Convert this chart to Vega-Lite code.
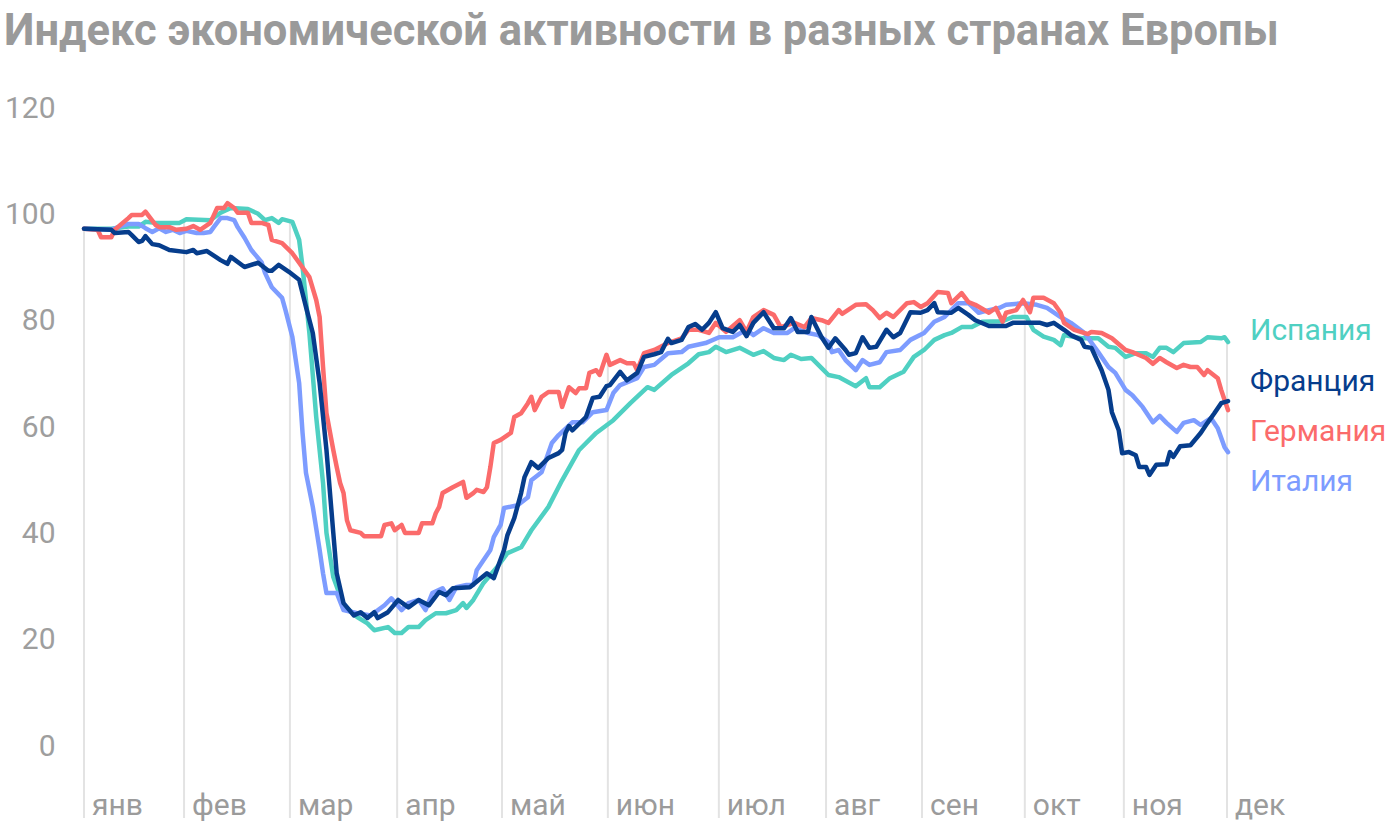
{
  "$schema": "https://vega.github.io/schema/vega-lite/v6.json",
  "autosize": "none",
  "width": 1144,
  "height": 710,
  "padding": {"left": 84, "top": 108, "right": 172, "bottom": 10},
  "background": "white",
  "title": {"text": "Индекс экономической активности в разных странах Европы", "anchor": "start", "frame": "group", "dx": -80, "offset": 5, "baseline": "alphabetic", "fontSize": 43.5, "font": "Roboto", "fontWeight": "bold", "color": "#9a9a9a"},
  "config": {
    "view": {"stroke": null},
    "axisY": {"grid": false, "domain": false, "ticks": false, "labelFontSize": 30, "labelFont": "Roboto", "labelColor": "#9e9e9e", "labelPadding": 29}
  },
  "datasets": {
    "series": [
      {"c":"Испания","d":0,"v":97.3},{"c":"Испания","d":8,"v":97.3},{"c":"Испания","d":13,"v":97.7},{"c":"Испания","d":16,"v":97.7},{"c":"Испания","d":18,"v":98.6},{"c":"Испания","d":21,"v":98.4},{"c":"Испания","d":28,"v":98.4},{"c":"Испания","d":30,"v":99.1},{"c":"Испания","d":37,"v":98.9},{"c":"Испания","d":40,"v":100.3},{"c":"Испания","d":43,"v":101.2},{"c":"Испания","d":48,"v":101.0},{"c":"Испания","d":51,"v":100.1},{"c":"Испания","d":53,"v":98.9},{"c":"Испания","d":55,"v":99.3},{"c":"Испания","d":57,"v":98.4},{"c":"Испания","d":58,"v":99.1},{"c":"Испания","d":61,"v":98.6},{"c":"Испания","d":63,"v":95.2},{"c":"Испания","d":64,"v":90.1},{"c":"Испания","d":66,"v":77.7},{"c":"Испания","d":68,"v":61.9},{"c":"Испания","d":70,"v":49.5},{"c":"Испания","d":71,"v":40.1},{"c":"Испания","d":73,"v":31.8},{"c":"Испания","d":76,"v":26.5},{"c":"Испания","d":80,"v":24.3},{"c":"Испания","d":83,"v":23.1},{"c":"Испания","d":85,"v":21.8},{"c":"Испания","d":89,"v":22.4},{"c":"Испания","d":91,"v":21.3},{"c":"Испания","d":93,"v":21.3},{"c":"Испания","d":95,"v":22.4},{"c":"Испания","d":98,"v":22.4},{"c":"Испания","d":100,"v":23.7},{"c":"Испания","d":103,"v":25.0},{"c":"Испания","d":106,"v":25.0},{"c":"Испания","d":109,"v":25.6},{"c":"Испания","d":111,"v":26.9},{"c":"Испания","d":112,"v":26.0},{"c":"Испания","d":114,"v":27.5},{"c":"Испания","d":117,"v":30.7},{"c":"Испания","d":121,"v":33.7},{"c":"Испания","d":124,"v":36.3},{"c":"Испания","d":128,"v":37.4},{"c":"Испания","d":131,"v":40.6},{"c":"Испания","d":136,"v":45.0},{"c":"Испания","d":140,"v":50.0},{"c":"Испания","d":145,"v":55.7},{"c":"Испания","d":150,"v":58.9},{"c":"Испания","d":155,"v":61.3},{"c":"Испания","d":160,"v":64.5},{"c":"Испания","d":165,"v":67.5},{"c":"Испания","d":167,"v":67.0},{"c":"Испания","d":172,"v":69.8},{"c":"Испания","d":177,"v":72.0},{"c":"Испания","d":180,"v":73.7},{"c":"Испания","d":183,"v":74.1},{"c":"Испания","d":185,"v":75.1},{"c":"Испания","d":188,"v":74.1},{"c":"Испания","d":192,"v":74.9},{"c":"Испания","d":196,"v":73.6},{"c":"Испания","d":199,"v":74.3},{"c":"Испания","d":202,"v":73.0},{"c":"Испания","d":205,"v":72.6},{"c":"Испания","d":207,"v":73.6},{"c":"Испания","d":210,"v":72.8},{"c":"Испания","d":213,"v":73.0},{"c":"Испания","d":216,"v":71.1},{"c":"Испания","d":218,"v":69.8},{"c":"Испания","d":221,"v":69.4},{"c":"Испания","d":226,"v":67.7},{"c":"Испания","d":229,"v":69.2},{"c":"Испания","d":230,"v":67.5},{"c":"Испания","d":233,"v":67.5},{"c":"Испания","d":236,"v":69.2},{"c":"Испания","d":240,"v":70.4},{"c":"Испания","d":243,"v":73.2},{"c":"Испания","d":246,"v":74.5},{"c":"Испания","d":249,"v":76.4},{"c":"Испания","d":252,"v":77.3},{"c":"Испания","d":254,"v":77.7},{"c":"Испания","d":257,"v":78.8},{"c":"Испания","d":260,"v":78.8},{"c":"Испания","d":263,"v":79.8},{"c":"Испания","d":269,"v":79.9},{"c":"Испания","d":272,"v":80.7},{"c":"Испания","d":276,"v":80.7},{"c":"Испания","d":278,"v":78.3},{"c":"Испания","d":281,"v":77.0},{"c":"Испания","d":284,"v":76.4},{"c":"Испания","d":286,"v":75.4},{"c":"Испания","d":287,"v":77.3},{"c":"Испания","d":292,"v":76.7},{"c":"Испания","d":297,"v":76.7},{"c":"Испания","d":300,"v":75.1},{"c":"Испания","d":302,"v":74.9},{"c":"Испания","d":305,"v":73.2},{"c":"Испания","d":308,"v":73.9},{"c":"Испания","d":311,"v":73.9},{"c":"Испания","d":313,"v":73.2},{"c":"Испания","d":315,"v":74.9},{"c":"Испания","d":317,"v":74.9},{"c":"Испания","d":319,"v":74.1},{"c":"Испания","d":322,"v":75.8},{"c":"Испания","d":327,"v":76.0},{"c":"Испания","d":329,"v":76.9},{"c":"Испания","d":333,"v":76.7},{"c":"Испания","d":334,"v":76.9},{"c":"Испания","d":335,"v":76.0},

      {"c":"Италия","d":0,"v":97.3},{"c":"Италия","d":8,"v":97.1},{"c":"Италия","d":10,"v":97.6},{"c":"Италия","d":13,"v":98.2},{"c":"Италия","d":16,"v":98.2},{"c":"Италия","d":18,"v":97.4},{"c":"Италия","d":20,"v":96.7},{"c":"Италия","d":22,"v":97.4},{"c":"Италия","d":24,"v":96.7},{"c":"Италия","d":26,"v":97.1},{"c":"Италия","d":28,"v":96.5},{"c":"Италия","d":30,"v":96.9},{"c":"Италия","d":33,"v":96.5},{"c":"Италия","d":35,"v":96.5},{"c":"Италия","d":37,"v":96.7},{"c":"Италия","d":38,"v":97.6},{"c":"Италия","d":40,"v":99.3},{"c":"Италия","d":42,"v":99.3},{"c":"Италия","d":44,"v":98.9},{"c":"Италия","d":45,"v":97.6},{"c":"Италия","d":47,"v":95.6},{"c":"Италия","d":49,"v":93.3},{"c":"Италия","d":52,"v":91.0},{"c":"Италия","d":53,"v":89.0},{"c":"Италия","d":55,"v":86.3},{"c":"Италия","d":58,"v":84.3},{"c":"Италия","d":59,"v":82.0},{"c":"Италия","d":61,"v":77.0},{"c":"Италия","d":63,"v":68.3},{"c":"Италия","d":64,"v":58.9},{"c":"Италия","d":65,"v":51.4},{"c":"Италия","d":67,"v":45.0},{"c":"Италия","d":69,"v":36.9},{"c":"Италия","d":70,"v":32.5},{"c":"Италия","d":71,"v":28.8},{"c":"Италия","d":74,"v":28.8},{"c":"Италия","d":76,"v":25.6},{"c":"Италия","d":80,"v":25.0},{"c":"Италия","d":84,"v":24.6},{"c":"Италия","d":88,"v":26.5},{"c":"Италия","d":90,"v":27.8},{"c":"Италия","d":93,"v":25.6},{"c":"Италия","d":95,"v":26.9},{"c":"Италия","d":98,"v":27.5},{"c":"Италия","d":100,"v":25.6},{"c":"Италия","d":102,"v":28.8},{"c":"Италия","d":105,"v":29.7},{"c":"Италия","d":107,"v":27.5},{"c":"Италия","d":109,"v":29.9},{"c":"Италия","d":112,"v":30.3},{"c":"Италия","d":114,"v":30.3},{"c":"Италия","d":115,"v":33.1},{"c":"Италия","d":119,"v":36.9},{"c":"Италия","d":120,"v":39.3},{"c":"Италия","d":122,"v":41.6},{"c":"Италия","d":123,"v":44.8},{"c":"Италия","d":127,"v":45.3},{"c":"Италия","d":130,"v":46.8},{"c":"Италия","d":131,"v":50.0},{"c":"Италия","d":134,"v":51.5},{"c":"Италия","d":137,"v":57.0},{"c":"Италия","d":139,"v":58.5},{"c":"Италия","d":143,"v":60.9},{"c":"Италия","d":146,"v":60.9},{"c":"Италия","d":149,"v":62.8},{"c":"Италия","d":153,"v":63.2},{"c":"Италия","d":155,"v":66.4},{"c":"Италия","d":157,"v":67.9},{"c":"Италия","d":162,"v":69.2},{"c":"Италия","d":164,"v":71.3},{"c":"Италия","d":167,"v":71.7},{"c":"Италия","d":171,"v":73.9},{"c":"Италия","d":175,"v":74.1},{"c":"Италия","d":177,"v":75.1},{"c":"Италия","d":182,"v":75.8},{"c":"Италия","d":186,"v":76.9},{"c":"Италия","d":190,"v":76.9},{"c":"Италия","d":194,"v":78.3},{"c":"Италия","d":196,"v":77.3},{"c":"Италия","d":199,"v":78.6},{"c":"Италия","d":202,"v":77.7},{"c":"Италия","d":206,"v":77.7},{"c":"Италия","d":208,"v":78.6},{"c":"Италия","d":212,"v":77.7},{"c":"Италия","d":215,"v":77.3},{"c":"Италия","d":218,"v":76.0},{"c":"Италия","d":219,"v":74.1},{"c":"Италия","d":221,"v":74.5},{"c":"Италия","d":223,"v":72.6},{"c":"Италия","d":226,"v":70.7},{"c":"Италия","d":228,"v":72.6},{"c":"Италия","d":230,"v":71.7},{"c":"Италия","d":233,"v":72.2},{"c":"Италия","d":235,"v":74.1},{"c":"Италия","d":239,"v":74.5},{"c":"Италия","d":242,"v":76.4},{"c":"Италия","d":246,"v":77.7},{"c":"Италия","d":249,"v":79.8},{"c":"Италия","d":252,"v":80.7},{"c":"Италия","d":256,"v":83.3},{"c":"Италия","d":259,"v":83.3},{"c":"Италия","d":262,"v":81.5},{"c":"Италия","d":265,"v":82.0},{"c":"Италия","d":268,"v":82.4},{"c":"Италия","d":270,"v":83.0},{"c":"Италия","d":275,"v":83.3},{"c":"Италия","d":279,"v":83.0},{"c":"Италия","d":282,"v":82.4},{"c":"Италия","d":286,"v":80.7},{"c":"Италия","d":289,"v":79.6},{"c":"Италия","d":293,"v":77.7},{"c":"Италия","d":297,"v":74.1},{"c":"Италия","d":300,"v":71.3},{"c":"Италия","d":302,"v":70.2},{"c":"Италия","d":305,"v":67.0},{"c":"Италия","d":307,"v":66.0},{"c":"Италия","d":310,"v":63.8},{"c":"Италия","d":313,"v":60.9},{"c":"Италия","d":315,"v":62.1},{"c":"Италия","d":317,"v":60.8},{"c":"Италия","d":320,"v":59.1},{"c":"Италия","d":322,"v":60.8},{"c":"Италия","d":325,"v":61.3},{"c":"Италия","d":327,"v":60.4},{"c":"Италия","d":330,"v":61.7},{"c":"Италия","d":332,"v":59.8},{"c":"Италия","d":334,"v":56.2},{"c":"Италия","d":335,"v":55.3},

      {"c":"Германия","d":0,"v":97.3},{"c":"Германия","d":4,"v":97.1},{"c":"Германия","d":5,"v":95.7},{"c":"Германия","d":8,"v":95.7},{"c":"Германия","d":9,"v":97.1},{"c":"Германия","d":13,"v":99.3},{"c":"Германия","d":14,"v":99.9},{"c":"Германия","d":17,"v":99.9},{"c":"Германия","d":18,"v":100.5},{"c":"Германия","d":21,"v":98.0},{"c":"Германия","d":22,"v":97.6},{"c":"Германия","d":25,"v":97.6},{"c":"Германия","d":27,"v":97.1},{"c":"Германия","d":30,"v":97.3},{"c":"Германия","d":32,"v":97.8},{"c":"Германия","d":34,"v":97.1},{"c":"Германия","d":37,"v":98.4},{"c":"Германия","d":39,"v":101.2},{"c":"Германия","d":41,"v":101.2},{"c":"Германия","d":42,"v":102.1},{"c":"Германия","d":44,"v":101.2},{"c":"Германия","d":45,"v":100.3},{"c":"Германия","d":48,"v":100.3},{"c":"Германия","d":49,"v":98.4},{"c":"Германия","d":52,"v":98.4},{"c":"Германия","d":54,"v":98.0},{"c":"Германия","d":55,"v":95.2},{"c":"Германия","d":58,"v":94.6},{"c":"Германия","d":61,"v":92.7},{"c":"Германия","d":63,"v":90.9},{"c":"Германия","d":66,"v":88.2},{"c":"Германия","d":68,"v":83.9},{"c":"Германия","d":69,"v":80.7},{"c":"Германия","d":70,"v":71.3},{"c":"Германия","d":71,"v":62.6},{"c":"Германия","d":73,"v":55.7},{"c":"Германия","d":74,"v":52.5},{"c":"Германия","d":75,"v":49.5},{"c":"Германия","d":76,"v":47.6},{"c":"Германия","d":77,"v":42.5},{"c":"Германия","d":78,"v":40.6},{"c":"Германия","d":81,"v":40.1},{"c":"Германия","d":82,"v":39.5},{"c":"Германия","d":87,"v":39.5},{"c":"Германия","d":88,"v":41.6},{"c":"Германия","d":90,"v":41.9},{"c":"Германия","d":91,"v":40.6},{"c":"Германия","d":93,"v":41.6},{"c":"Германия","d":94,"v":40.1},{"c":"Германия","d":98,"v":40.1},{"c":"Германия","d":99,"v":41.9},{"c":"Германия","d":102,"v":41.9},{"c":"Германия","d":103,"v":43.8},{"c":"Германия","d":104,"v":45.0},{"c":"Германия","d":105,"v":47.6},{"c":"Германия","d":108,"v":48.7},{"c":"Германия","d":111,"v":49.7},{"c":"Германия","d":112,"v":46.7},{"c":"Германия","d":114,"v":47.6},{"c":"Германия","d":115,"v":48.2},{"c":"Германия","d":117,"v":47.8},{"c":"Германия","d":118,"v":48.7},{"c":"Германия","d":119,"v":52.5},{"c":"Германия","d":120,"v":57.0},{"c":"Германия","d":122,"v":57.6},{"c":"Германия","d":125,"v":58.9},{"c":"Германия","d":126,"v":61.9},{"c":"Германия","d":128,"v":62.6},{"c":"Германия","d":130,"v":64.5},{"c":"Германия","d":131,"v":65.7},{"c":"Германия","d":132,"v":63.2},{"c":"Германия","d":134,"v":65.7},{"c":"Германия","d":136,"v":66.6},{"c":"Германия","d":139,"v":66.6},{"c":"Германия","d":140,"v":63.8},{"c":"Германия","d":142,"v":67.5},{"c":"Германия","d":144,"v":66.4},{"c":"Германия","d":145,"v":67.3},{"c":"Германия","d":147,"v":67.3},{"c":"Германия","d":148,"v":70.2},{"c":"Германия","d":150,"v":70.7},{"c":"Германия","d":151,"v":69.8},{"c":"Германия","d":153,"v":73.6},{"c":"Германия","d":154,"v":71.7},{"c":"Германия","d":157,"v":72.6},{"c":"Германия","d":159,"v":72.0},{"c":"Германия","d":161,"v":72.0},{"c":"Германия","d":162,"v":70.7},{"c":"Германия","d":164,"v":73.9},{"c":"Германия","d":167,"v":74.5},{"c":"Германия","d":171,"v":75.8},{"c":"Германия","d":175,"v":76.7},{"c":"Германия","d":177,"v":78.3},{"c":"Германия","d":180,"v":78.3},{"c":"Германия","d":183,"v":77.7},{"c":"Германия","d":185,"v":79.6},{"c":"Германия","d":188,"v":77.9},{"c":"Германия","d":192,"v":80.1},{"c":"Германия","d":194,"v":77.9},{"c":"Германия","d":196,"v":80.7},{"c":"Германия","d":199,"v":82.0},{"c":"Германия","d":202,"v":81.1},{"c":"Германия","d":204,"v":78.8},{"c":"Германия","d":208,"v":79.6},{"c":"Германия","d":211,"v":78.8},{"c":"Германия","d":213,"v":80.5},{"c":"Германия","d":216,"v":80.1},{"c":"Германия","d":218,"v":79.6},{"c":"Германия","d":221,"v":82.0},{"c":"Германия","d":222,"v":81.3},{"c":"Германия","d":226,"v":83.0},{"c":"Германия","d":229,"v":83.1},{"c":"Германия","d":231,"v":82.0},{"c":"Германия","d":233,"v":80.5},{"c":"Германия","d":235,"v":81.5},{"c":"Германия","d":237,"v":80.7},{"c":"Германия","d":241,"v":83.3},{"c":"Германия","d":243,"v":83.5},{"c":"Германия","d":245,"v":82.6},{"c":"Германия","d":247,"v":83.3},{"c":"Германия","d":250,"v":85.4},{"c":"Германия","d":253,"v":85.2},{"c":"Германия","d":254,"v":83.3},{"c":"Германия","d":257,"v":85.2},{"c":"Германия","d":259,"v":83.5},{"c":"Германия","d":261,"v":83.0},{"c":"Германия","d":265,"v":81.5},{"c":"Германия","d":267,"v":82.4},{"c":"Германия","d":269,"v":79.8},{"c":"Германия","d":270,"v":81.5},{"c":"Германия","d":273,"v":82.0},{"c":"Германия","d":275,"v":83.9},{"c":"Германия","d":277,"v":81.6},{"c":"Германия","d":278,"v":84.3},{"c":"Германия","d":281,"v":84.3},{"c":"Германия","d":284,"v":83.3},{"c":"Германия","d":286,"v":81.5},{"c":"Германия","d":287,"v":79.6},{"c":"Германия","d":290,"v":78.3},{"c":"Германия","d":294,"v":77.5},{"c":"Германия","d":295,"v":77.9},{"c":"Германия","d":298,"v":77.7},{"c":"Германия","d":301,"v":76.7},{"c":"Германия","d":305,"v":74.5},{"c":"Германия","d":307,"v":74.1},{"c":"Германия","d":311,"v":73.0},{"c":"Германия","d":313,"v":71.9},{"c":"Германия","d":315,"v":73.0},{"c":"Германия","d":317,"v":72.2},{"c":"Германия","d":320,"v":71.1},{"c":"Германия","d":322,"v":71.7},{"c":"Германия","d":324,"v":71.3},{"c":"Германия","d":326,"v":71.3},{"c":"Германия","d":328,"v":69.8},{"c":"Германия","d":329,"v":70.7},{"c":"Германия","d":332,"v":69.2},{"c":"Германия","d":333,"v":67.0},{"c":"Германия","d":334,"v":65.1},{"c":"Германия","d":335,"v":63.2},

      {"c":"Франция","d":0,"v":97.3},{"c":"Франция","d":8,"v":97.1},{"c":"Франция","d":9,"v":96.5},{"c":"Франция","d":13,"v":96.7},{"c":"Франция","d":14,"v":96.1},{"c":"Франция","d":16,"v":94.8},{"c":"Франция","d":17,"v":95.0},{"c":"Франция","d":18,"v":95.9},{"c":"Франция","d":20,"v":94.4},{"c":"Франция","d":22,"v":94.2},{"c":"Франция","d":25,"v":93.3},{"c":"Франция","d":30,"v":92.9},{"c":"Франция","d":32,"v":93.3},{"c":"Франция","d":33,"v":92.7},{"c":"Франция","d":36,"v":93.1},{"c":"Франция","d":40,"v":91.4},{"c":"Франция","d":42,"v":90.7},{"c":"Франция","d":43,"v":92.0},{"c":"Франция","d":47,"v":90.1},{"c":"Франция","d":51,"v":90.9},{"c":"Франция","d":54,"v":89.4},{"c":"Франция","d":55,"v":89.4},{"c":"Франция","d":57,"v":90.5},{"c":"Франция","d":60,"v":89.2},{"c":"Франция","d":63,"v":87.7},{"c":"Франция","d":65,"v":82.6},{"c":"Франция","d":67,"v":77.7},{"c":"Франция","d":69,"v":68.3},{"c":"Франция","d":71,"v":55.7},{"c":"Франция","d":73,"v":40.1},{"c":"Франция","d":74,"v":32.5},{"c":"Франция","d":76,"v":26.9},{"c":"Франция","d":79,"v":24.6},{"c":"Франция","d":81,"v":25.2},{"c":"Франция","d":83,"v":24.1},{"c":"Франция","d":85,"v":25.2},{"c":"Франция","d":86,"v":24.1},{"c":"Франция","d":89,"v":25.2},{"c":"Франция","d":92,"v":27.5},{"c":"Франция","d":95,"v":26.1},{"c":"Франция","d":98,"v":27.5},{"c":"Франция","d":101,"v":26.5},{"c":"Франция","d":104,"v":29.0},{"c":"Франция","d":106,"v":28.4},{"c":"Франция","d":108,"v":29.7},{"c":"Франция","d":113,"v":29.9},{"c":"Франция","d":118,"v":32.5},{"c":"Франция","d":120,"v":31.6},{"c":"Франция","d":123,"v":36.9},{"c":"Франция","d":124,"v":39.7},{"c":"Франция","d":126,"v":42.9},{"c":"Франция","d":128,"v":47.6},{"c":"Франция","d":129,"v":50.6},{"c":"Франция","d":131,"v":53.4},{"c":"Франция","d":133,"v":52.3},{"c":"Франция","d":136,"v":54.2},{"c":"Франция","d":139,"v":55.1},{"c":"Франция","d":140,"v":55.7},{"c":"Франция","d":141,"v":58.9},{"c":"Франция","d":142,"v":60.2},{"c":"Франция","d":143,"v":59.4},{"c":"Франция","d":147,"v":61.9},{"c":"Франция","d":149,"v":65.5},{"c":"Франция","d":151,"v":65.7},{"c":"Франция","d":153,"v":67.7},{"c":"Франция","d":154,"v":67.9},{"c":"Франция","d":157,"v":70.4},{"c":"Франция","d":159,"v":68.8},{"c":"Франция","d":162,"v":70.2},{"c":"Франция","d":164,"v":73.2},{"c":"Франция","d":167,"v":73.7},{"c":"Франция","d":169,"v":74.1},{"c":"Франция","d":171,"v":76.6},{"c":"Франция","d":172,"v":75.8},{"c":"Франция","d":175,"v":76.4},{"c":"Франция","d":177,"v":78.8},{"c":"Франция","d":179,"v":79.4},{"c":"Франция","d":181,"v":78.3},{"c":"Франция","d":183,"v":79.6},{"c":"Франция","d":185,"v":81.6},{"c":"Франция","d":187,"v":78.6},{"c":"Франция","d":190,"v":77.9},{"c":"Франция","d":192,"v":79.2},{"c":"Франция","d":194,"v":77.1},{"c":"Франция","d":196,"v":79.6},{"c":"Франция","d":199,"v":81.6},{"c":"Франция","d":202,"v":78.6},{"c":"Франция","d":205,"v":78.6},{"c":"Франция","d":207,"v":80.5},{"c":"Франция","d":209,"v":77.9},{"c":"Франция","d":212,"v":77.9},{"c":"Франция","d":213,"v":80.7},{"c":"Франция","d":216,"v":76.9},{"c":"Франция","d":218,"v":74.9},{"c":"Франция","d":220,"v":76.7},{"c":"Франция","d":223,"v":74.5},{"c":"Франция","d":224,"v":73.6},{"c":"Франция","d":226,"v":73.9},{"c":"Франция","d":228,"v":76.9},{"c":"Франция","d":230,"v":74.9},{"c":"Франция","d":232,"v":75.1},{"c":"Франция","d":235,"v":78.3},{"c":"Франция","d":237,"v":76.9},{"c":"Франция","d":239,"v":77.7},{"c":"Франция","d":242,"v":81.6},{"c":"Франция","d":245,"v":81.5},{"c":"Франция","d":247,"v":82.0},{"c":"Франция","d":249,"v":83.3},{"c":"Франция","d":250,"v":81.6},{"c":"Франция","d":253,"v":81.5},{"c":"Франция","d":254,"v":81.5},{"c":"Франция","d":256,"v":82.4},{"c":"Франция","d":259,"v":81.1},{"c":"Франция","d":261,"v":80.1},{"c":"Франция","d":265,"v":79.0},{"c":"Франция","d":270,"v":79.0},{"c":"Франция","d":272,"v":79.6},{"c":"Франция","d":280,"v":79.6},{"c":"Франция","d":282,"v":79.2},{"c":"Франция","d":284,"v":79.6},{"c":"Франция","d":287,"v":78.3},{"c":"Франция","d":289,"v":77.3},{"c":"Франция","d":292,"v":76.4},{"c":"Франция","d":293,"v":75.1},{"c":"Франция","d":295,"v":74.9},{"c":"Франция","d":298,"v":70.7},{"c":"Франция","d":300,"v":67.0},{"c":"Франция","d":301,"v":62.8},{"c":"Франция","d":303,"v":59.4},{"c":"Франция","d":304,"v":55.1},{"c":"Франция","d":306,"v":55.3},{"c":"Франция","d":308,"v":54.7},{"c":"Франция","d":309,"v":52.5},{"c":"Франция","d":311,"v":52.5},{"c":"Франция","d":312,"v":51.0},{"c":"Франция","d":314,"v":52.9},{"c":"Франция","d":317,"v":53.0},{"c":"Франция","d":318,"v":55.3},{"c":"Франция","d":319,"v":54.4},{"c":"Франция","d":321,"v":56.4},{"c":"Франция","d":324,"v":56.6},{"c":"Франция","d":327,"v":58.9},{"c":"Франция","d":329,"v":60.8},{"c":"Франция","d":331,"v":62.6},{"c":"Франция","d":333,"v":64.5},{"c":"Франция","d":335,"v":64.9}
    ],
    "months": [
      {"m":"янв","d":0,"top":97.3},{"m":"фев","d":29.3,"top":98.8},{"m":"мар","d":60.3,"top":98.8},{"m":"апр","d":91.7,"top":41.6},{"m":"май","d":122.4,"top":57.6},{"m":"июн","d":153.4,"top":72.5},{"m":"июл","d":185.9,"top":80},{"m":"авг","d":217.3,"top":80},{"m":"сен","d":245.4,"top":83},{"m":"окт","d":275.5,"top":83},{"m":"ноя","d":304.5,"top":74.5},{"m":"дек","d":334.7,"top":76}
    ],
    "labels": [
      {"c":"Испания","d":335,"ly":78.1},{"c":"Франция","d":335,"ly":68.5},{"c":"Германия","d":335,"ly":59.1},{"c":"Италия","d":335,"ly":49.7}
    ]
  },
  "layer": [
    {
      "data": {"name": "months"},
      "mark": {"type": "rule", "color": "#e3e3e3", "strokeWidth": 2},
      "encoding": {
        "x": {"field": "d", "type": "quantitative", "scale": {"domain": [0, 335], "nice": false, "zero": false}, "axis": null},
        "y": {"field": "top", "type": "quantitative", "scale": {"domain": [-13.5, 120], "nice": false, "zero": false}, "axis": {"title": null, "values": [0, 20, 40, 60, 80, 100, 120]}},
        "y2": {"datum": -13.5}
      }
    },
    {
      "data": {"name": "months"},
      "mark": {"type": "text", "align": "left", "baseline": "alphabetic", "dx": 8, "dy": -3, "fontSize": 30, "font": "Roboto", "color": "#9b9b9b"},
      "encoding": {
        "x": {"field": "d", "type": "quantitative", "scale": {"domain": [0, 335], "nice": false, "zero": false}, "axis": null},
        "y": {"datum": -13.5, "type": "quantitative", "scale": {"domain": [-13.5, 120], "nice": false, "zero": false}, "axis": {"title": null, "values": [0, 20, 40, 60, 80, 100, 120]}},
        "text": {"field": "m"}
      }
    },
    {
      "data": {"name": "series"},
      "mark": {"type": "line", "strokeWidth": 4.5, "strokeJoin": "round", "strokeCap": "round"},
      "encoding": {
        "x": {"field": "d", "type": "quantitative", "scale": {"domain": [0, 335], "nice": false, "zero": false}, "axis": null},
        "y": {"field": "v", "type": "quantitative", "scale": {"domain": [-13.5, 120], "nice": false, "zero": false}, "axis": {"title": null, "values": [0, 20, 40, 60, 80, 100, 120]}},
        "color": {"field": "c", "type": "nominal", "scale": {"domain": ["Испания", "Италия", "Германия", "Франция"], "range": ["#4fd0c2", "#7d9cff", "#fb6b6b", "#063d8c"]}, "legend": null}
      }
    },
    {
      "data": {"name": "labels"},
      "mark": {"type": "text", "align": "left", "baseline": "middle", "dx": 22, "fontSize": 30, "font": "Roboto"},
      "encoding": {
        "x": {"field": "d", "type": "quantitative", "scale": {"domain": [0, 335], "nice": false, "zero": false}, "axis": null},
        "y": {"field": "ly", "type": "quantitative", "scale": {"domain": [-13.5, 120], "nice": false, "zero": false}, "axis": {"title": null, "values": [0, 20, 40, 60, 80, 100, 120]}},
        "text": {"field": "c"},
        "color": {"field": "c", "type": "nominal", "scale": {"domain": ["Испания", "Италия", "Германия", "Франция"], "range": ["#4fd0c2", "#7d9cff", "#fb6b6b", "#063d8c"]}, "legend": null}
      }
    }
  ]
}
